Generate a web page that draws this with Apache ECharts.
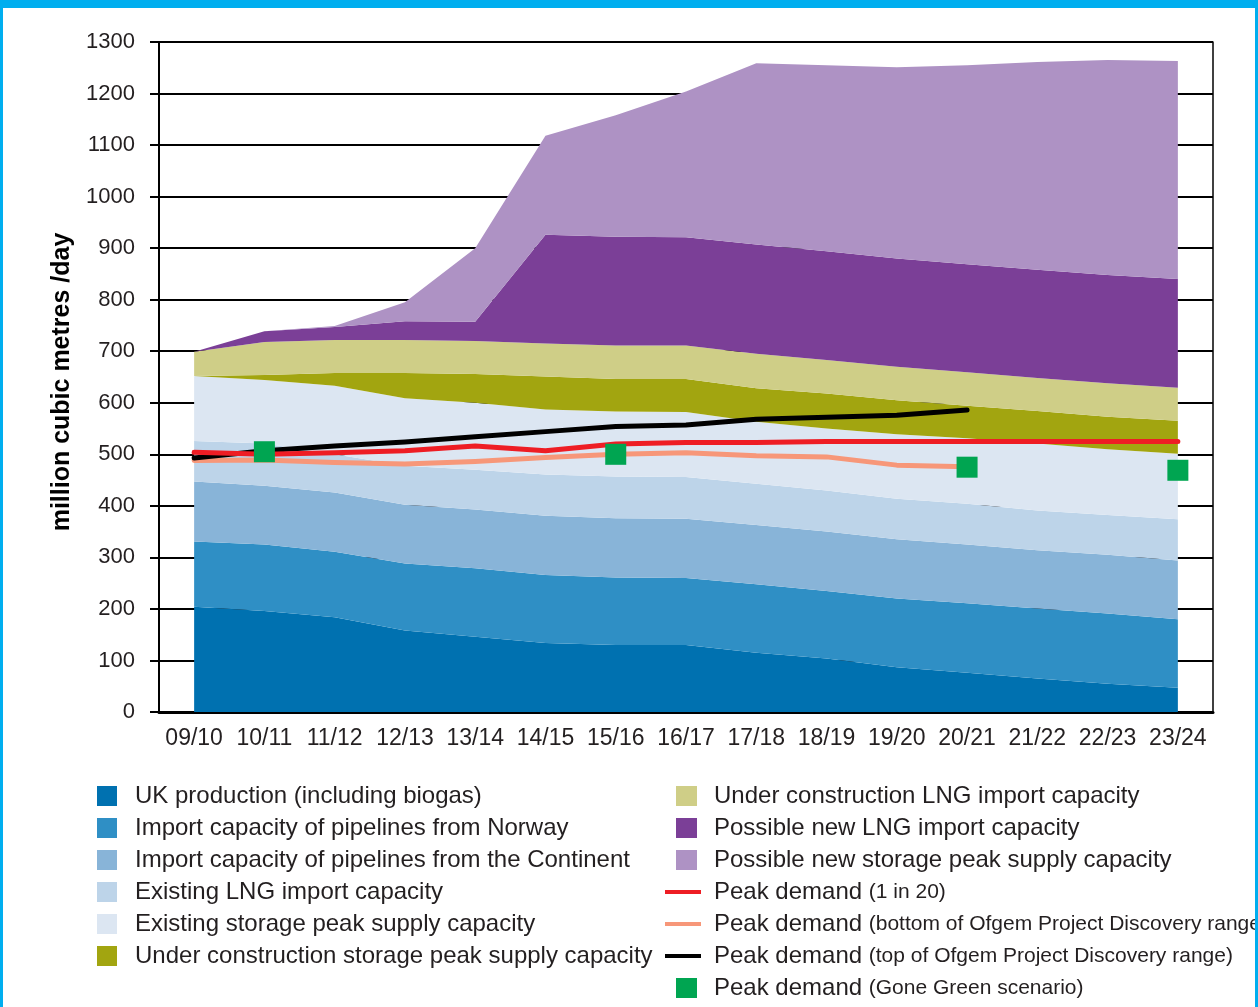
<!DOCTYPE html>
<html>
<head>
<meta charset="utf-8">
<script src="https://cdn.jsdelivr.net/npm/echarts@6/dist/echarts.min.js"></script>
<style>
  html, body { margin: 0; padding: 0; background: #fff; }
  #chart { width: 1258px; height: 1007px; }
</style>
</head>
<body>
<div id="chart"></div>
<script>
// gas years
const years = ['09/10', '10/11', '11/12', '12/13', '13/14', '14/15', '15/16', '16/17',
  '17/18', '18/19', '19/20', '20/21', '21/22', '22/23', '23/24'];
const yTicks = [0, 1300, 100]; // min, max, step

// supply capacity, stacked bottom to top (mcm/d)
const ukProduction = [204, 196, 184, 158, 146, 134, 130, 130, 115, 104, 87, 76, 65, 55, 47];
const norwayImports = [127, 129, 127, 130, 133, 132, 131, 130, 133, 131, 133, 135, 136, 136, 133];
const continentImports = [116, 114, 115, 114, 114, 115, 115, 115, 115, 115, 115, 114, 113, 114, 114];
const existingLng = [79, 82, 74, 76, 77, 80, 81, 81, 80, 80, 79, 79, 77, 77, 80];
const existingStorage = [126, 123, 133, 131, 130, 126, 126, 126, 120, 120, 125, 127, 130, 128, 127];
const buildingStorage = [0, 10, 25, 49, 56, 64, 63, 64, 65, 68, 66, 63, 63, 63, 64];
const buildingLng = [47, 64, 64, 64, 64, 64, 65, 65, 67, 65, 65, 65, 64, 65, 64];
const possibleLng = [0, 21, 25, 36, 37, 211, 211, 210, 212, 211, 210, 210, 210, 210, 211];
const possibleStorage = [0, 0, 2, 37, 143, 192, 236, 283, 352, 361, 371, 386, 403, 417, 423];

// peak demand
const demand1in20 = [504, 500, 503, 507, 516, 507, 520, 523, 523, 525, 525, 525, 525, 525, 525];
const demandOfgemLow = [488, 489, 484, 481, 486, 494, 500, 503, 497, 495, 479, 476, null, null, null];
const demandOfgemHigh = [493, 507, 516, 524, 534, 544, 554, 557, 568, 572, 576, 586, null, null, null];
const demandGoneGreen = [null, 505, null, null, null, null, 500, null, null, null, null, 475, null, null, 469];

const FONT = '"Liberation Sans", Arial, sans-serif';

const areas = [
  ['UK production (including biogas)', ukProduction, '#0071b0'],
  ['Import capacity of pipelines from Norway', norwayImports, '#2f8fc5'],
  ['Import capacity of pipelines from the Continent', continentImports, '#88b4d8'],
  ['Existing LNG import capacity', existingLng, '#bdd4e9'],
  ['Existing storage peak supply capacity', existingStorage, '#dce6f2'],
  ['Under construction storage peak supply capacity', buildingStorage, '#a2a510'],
  ['Under construction LNG import capacity', buildingLng, '#cfce87'],
  ['Possible new LNG import capacity', possibleLng, '#7b3f97'],
  ['Possible new storage peak supply capacity', possibleStorage, '#ae92c4']
];

const lineNames = {
  red: 'Peak demand (1 in 20)',
  low: 'Peak demand (bottom of Ofgem Project Discovery range)',
  high: 'Peak demand (top of Ofgem Project Discovery range)',
  green: 'Peak demand (Gone Green scenario)'
};

const series = areas.map(([name, values, color]) => ({
  name: name,
  type: 'line',
  stack: 'supply',
  data: values,
  color: color,
  symbol: 'none',
  lineStyle: { width: 0 },
  areaStyle: { color: color, opacity: 1 },
  emphasis: { disabled: true },
  z: 2
}));

const demandLine = (name, values, color) => ({
  name: name,
  type: 'line',
  data: values,
  color: color,
  symbol: 'none',
  lineStyle: { color: color, width: 5, cap: 'round', join: 'round' },
  emphasis: { disabled: true },
  z: 3
});
series.push(demandLine(lineNames.low, demandOfgemLow, '#f79779'));
series.push(demandLine(lineNames.high, demandOfgemHigh, '#000000'));
series.push(demandLine(lineNames.red, demand1in20, '#ee1d24'));
series.push({
  name: lineNames.green,
  type: 'scatter',
  data: demandGoneGreen,
  color: '#00a551',
  symbol: 'rect',
  symbolSize: 21,
  itemStyle: { color: '#00a551', opacity: 1 },
  emphasis: { disabled: true },
  z: 4
});

// legend text: "Peak demand" normal, bracketed part smaller
const legendRich = {
  a: { fontFamily: FONT, fontSize: 24, color: '#231f20' },
  b: { fontFamily: FONT, fontSize: 21, color: '#231f20' }
};
const legendText = (pad) => ({
  fontFamily: FONT, fontSize: 24, color: '#231f20',
  padding: [0, 0, 0, pad], rich: legendRich
});
const peakFormatter = (name) => {
  const i = name.indexOf('(');
  return '{a|' + name.slice(0, i) + '}{b|' + name.slice(i) + '}';
};
const baseLegend = {
  orient: 'vertical', padding: 0, itemGap: 8, selectedMode: false, icon: 'rect'
};

const chart = echarts.init(document.getElementById('chart'));
chart.setOption({
  animation: false,
  backgroundColor: '#ffffff',
  grid: { left: 159, right: 45, top: 42, bottom: 295 },
  xAxis: {
    type: 'category',
    data: years,
    boundaryGap: true,
    axisLine: { lineStyle: { color: '#000', width: 3 } },
    axisTick: { length: 8, lineStyle: { color: '#000', width: 2 } },
    axisLabel: { interval: 0, margin: 15, fontFamily: FONT, fontSize: 23, color: '#231f20' },
    splitLine: { show: false }
  },
  yAxis: [
    {
      type: 'value',
      min: yTicks[0], max: yTicks[1], interval: yTicks[2],
      name: 'million cubic metres /day',
      nameLocation: 'middle',
      nameRotate: 90,
      nameGap: 84,
      nameTextStyle: { fontFamily: FONT, fontSize: 25, fontWeight: 'bold', color: '#000', padding: [0, 10, 0, 0] },
      axisLine: { show: true, lineStyle: { color: '#000', width: 2 } },
      axisTick: { show: true, length: 9, lineStyle: { color: '#000', width: 2 } },
      axisLabel: { margin: 24, fontFamily: FONT, fontSize: 22, color: '#231f20', formatter: v => String(v) },
      splitLine: { show: true, lineStyle: { color: '#000', width: 2 } }
    },
    {
      type: 'value',
      position: 'right',
      min: yTicks[0], max: yTicks[1], interval: yTicks[2],
      axisLine: { show: true, lineStyle: { color: '#000', width: 1.5 } },
      axisTick: { show: false },
      axisLabel: { show: false },
      splitLine: { show: false }
    }
  ],
  legend: [
    Object.assign({}, baseLegend, {
      left: 97, top: 784, itemWidth: 20, itemHeight: 20,
      data: areas.slice(0, 6).map(a => a[0]),
      textStyle: legendText(13)
    }),
    Object.assign({}, baseLegend, {
      left: 676, top: 784, itemWidth: 21, itemHeight: 20,
      data: areas.slice(6).map(a => a[0]),
      textStyle: legendText(12)
    }),
    Object.assign({}, baseLegend, {
      left: 665, top: 880, itemWidth: 36, itemHeight: 4,
      data: [lineNames.red, lineNames.low, lineNames.high],
      formatter: peakFormatter,
      textStyle: legendText(8)
    }),
    Object.assign({}, baseLegend, {
      left: 676, top: 976, itemWidth: 21, itemHeight: 20,
      data: [lineNames.green],
      formatter: peakFormatter,
      textStyle: legendText(12)
    })
  ],
  graphic: [
    { type: 'rect', left: 0, top: 0, shape: { width: 1258, height: 8 }, style: { fill: '#00aeef' }, z: 100 },
    { type: 'rect', left: 0, top: 0, shape: { width: 3, height: 1007 }, style: { fill: '#00aeef' }, z: 100 },
    { type: 'rect', right: 0, top: 0, shape: { width: 3, height: 1007 }, style: { fill: '#00aeef' }, z: 100 }
  ],
  series: series
});
</script>
</body>
</html>
